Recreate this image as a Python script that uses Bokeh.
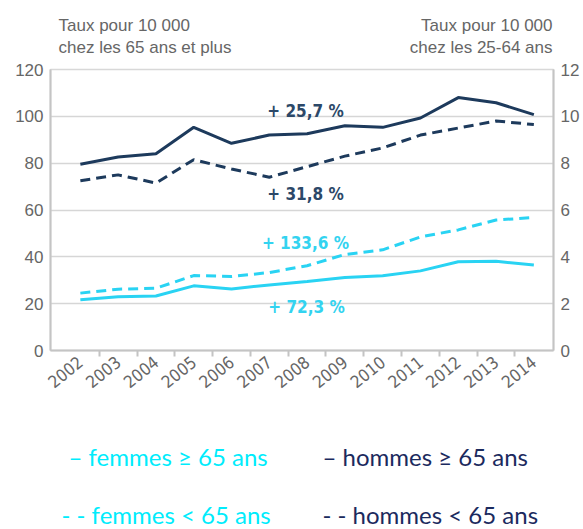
from bokeh.plotting import figure
from bokeh.layouts import column
from bokeh.models import (Range1d, LinearAxis, FixedTicker, Label, ColumnDataSource)
from bokeh.embed import file_html
from bokeh.resources import INLINE

# ---------------- data ----------------
years = [2002, 2003, 2004, 2005, 2006, 2007, 2008, 2009, 2010, 2011, 2012, 2013, 2014]
year_labels = [str(y) for y in years]
# rates per 10 000, people aged 65+ (left axis)
hommes_65plus = [79.5, 82.6, 84.0, 95.3, 88.5, 92.0, 92.6, 96.0, 95.3, 99.3, 108.0, 105.8, 100.7]
femmes_65plus = [21.7, 23.0, 23.3, 27.6, 26.3, 28.0, 29.5, 31.2, 31.9, 34.0, 37.9, 38.1, 36.5]
# rates per 10 000, people aged 25-64 (right axis)
hommes_2564 = [7.25, 7.5, 7.15, 8.15, 7.75, 7.4, 7.85, 8.3, 8.65, 9.2, 9.5, 9.8, 9.65]
femmes_2564 = [2.45, 2.62, 2.66, 3.2, 3.16, 3.33, 3.62, 4.1, 4.3, 4.85, 5.15, 5.57, 5.68]
left_ticks = [0, 20, 40, 60, 80, 100, 120]
right_ticks = [0, 2, 4, 6, 8, 10, 12]
changes = ["+ 25,7 %", "+ 31,8 %", "+ 133,6 %", "+ 72,3 %"]
title_left = ["Taux pour 10 000", "chez les 65 ans et plus"]
title_right = ["Taux pour 10 000", "chez les 25-64 ans"]
legend_texts = ["\u2013 femmes \u2265 65 ans", "\u2013 hommes \u2265 65 ans",
                "- - femmes < 65 ans", "- - hommes < 65 ans"]

DARK = "#1d3a5c"
CYAN = "#29d3f3"
GREY_TXT = "#666666"
COND = "DejaVu Sans Condensed"
LEG_CYAN = "#00ecfc"
LEG_DARK = "#1b2a5e"
ANN_DARK = "#2c4868"
ANN_CYAN = "#33d3f0"

W, H = 583, 529
HEAD_H = 62           # header panel (axis titles)
MAIN_H = 338          # main chart
FOOT_H = H - HEAD_H - MAIN_H   # footer panel (legend)
FR_L, FR_R = 50, 553
FR_T, FR_B = 69, 350  # frame top / bottom in whole-picture coords


def text_panel(height):
    f = figure(width=W, height=height, output_backend="svg", toolbar_location=None,
               x_axis_type=None, y_axis_type=None, x_range=Range1d(0, 1),
               y_range=Range1d(0, 1), min_border=0, frame_align=False,
               background_fill_color="white", border_fill_color="white")
    f.outline_line_color = None
    f.grid.visible = False
    return f


def add_text(fig, top, txt, px, py, color, font, size, align="left",
             style="normal"):
    # px, py: position in the picture (pixels from its top-left corner), vertical middle
    fig.add_layout(Label(x=px, y=py - top, x_units="canvas", y_units="canvas",
                         text=txt, text_color=color,
                         text_font=font, text_font_size=size, text_align=align,
                         text_baseline="middle", text_font_style=style))


# ---------------- header ----------------
head = text_panel(HEAD_H)
add_text(head, 0, title_left[0], 58, 25, GREY_TXT, "Liberation Sans", "17px")
add_text(head, 0, title_left[1], 58, 47, GREY_TXT, "Liberation Sans", "17px")
add_text(head, 0, title_right[0], 552, 25, GREY_TXT, "Liberation Sans", "17px", align="right")
add_text(head, 0, title_right[1], 552, 47, GREY_TXT, "Liberation Sans", "17px", align="right")

# ---------------- main chart ----------------
X0, X1 = 2001.21, 2014.52
p = figure(width=W, height=MAIN_H, output_backend="svg", toolbar_location=None,
           x_range=Range1d(X0, X1), y_range=Range1d(0, 120), frame_align=False,
           min_border_left=FR_L, min_border_right=W - FR_R,
           min_border_top=FR_T - HEAD_H, min_border_bottom=HEAD_H + MAIN_H - FR_B,
           background_fill_color="white", border_fill_color="white")
p.extra_y_ranges = {"right": Range1d(0, 12)}

p.outline_line_color = "#d8d8d8"
p.outline_line_width = 1.5
p.xgrid.visible = False
p.ygrid.grid_line_color = "#d6d6d6"
p.ygrid.grid_line_width = 1.5
p.ygrid.ticker = FixedTicker(ticks=left_ticks)

xa = p.xaxis[0]
xa.ticker = FixedTicker(ticks=years, minor_ticks=[y + 0.5 for y in years[:-1]])
xa.major_label_overrides = {y: l for y, l in zip(years, year_labels)}
xa.major_tick_out = 0
xa.major_tick_in = 0
xa.minor_tick_out = 6
xa.minor_tick_in = 0
xa.minor_tick_line_color = "#c4c4c4"
xa.minor_tick_line_width = 2
xa.axis_line_color = "#c4c4c4"
xa.axis_line_width = 2
xa.major_label_orientation = 0.68
xa.major_label_text_font = COND
xa.major_label_text_font_size = "17px"
xa.major_label_text_color = GREY_TXT
xa.major_label_standoff = 3

ya = p.yaxis[0]
ya.ticker = FixedTicker(ticks=left_ticks)
ya.major_tick_out = 0
ya.major_tick_in = 0
ya.minor_tick_out = 0
ya.minor_tick_in = 0
ya.axis_line_color = "#c4c4c4"
ya.axis_line_width = 2
ya.major_label_text_font = "Liberation Sans"
ya.major_label_text_font_size = "17px"
ya.major_label_text_color = GREY_TXT
ya.major_label_standoff = 7

ra = LinearAxis(y_range_name="right", ticker=FixedTicker(ticks=right_ticks))
ra.major_tick_out = 0
ra.major_tick_in = 0
ra.minor_tick_out = 0
ra.minor_tick_in = 0
ra.axis_line_color = "#c4c4c4"
ra.axis_line_width = 2
ra.major_label_text_font = "Liberation Sans"
ra.major_label_text_font_size = "17px"
ra.major_label_text_color = GREY_TXT
ra.major_label_standoff = 7
p.add_layout(ra, "right")

src = ColumnDataSource(dict(x=years, hm=hommes_65plus, fm=femmes_65plus,
                            hj=hommes_2564, fj=femmes_2564))
p.line("x", "fj", source=src, y_range_name="right", color=CYAN, line_width=3,
       line_dash="10 6")
p.line("x", "hj", source=src, y_range_name="right", color=DARK, line_width=3,
       line_dash="10 6")
p.line("x", "fm", source=src, color=CYAN, line_width=3)
p.line("x", "hm", source=src, color=DARK, line_width=3)

add_text(p, HEAD_H, changes[0], 305, 110, ANN_DARK, COND, "17px",
         align="center", style="bold")
add_text(p, HEAD_H, changes[1], 305, 193, ANN_DARK, COND, "17px",
         align="center", style="bold")
add_text(p, HEAD_H, changes[2], 305, 242, ANN_CYAN, COND, "17px",
         align="center", style="bold")
add_text(p, HEAD_H, changes[3], 306, 306, ANN_CYAN, COND, "17px",
         align="center", style="bold")

# ---------------- footer (legend) ----------------
foot = text_panel(FOOT_H)
top_f = HEAD_H + MAIN_H
add_text(foot, top_f, legend_texts[0], 68, 456, LEG_CYAN, "Lato", "24px")
add_text(foot, top_f, legend_texts[1], 322, 456, LEG_DARK, "Lato", "24px")
add_text(foot, top_f, legend_texts[2], 61, 514, LEG_CYAN, "Lato", "24px")
add_text(foot, top_f, legend_texts[3], 322, 514, LEG_DARK, "Lato", "24px")

layout = column(head, p, foot, spacing=0)
open("out.html", "w").write(file_html(layout, INLINE))
